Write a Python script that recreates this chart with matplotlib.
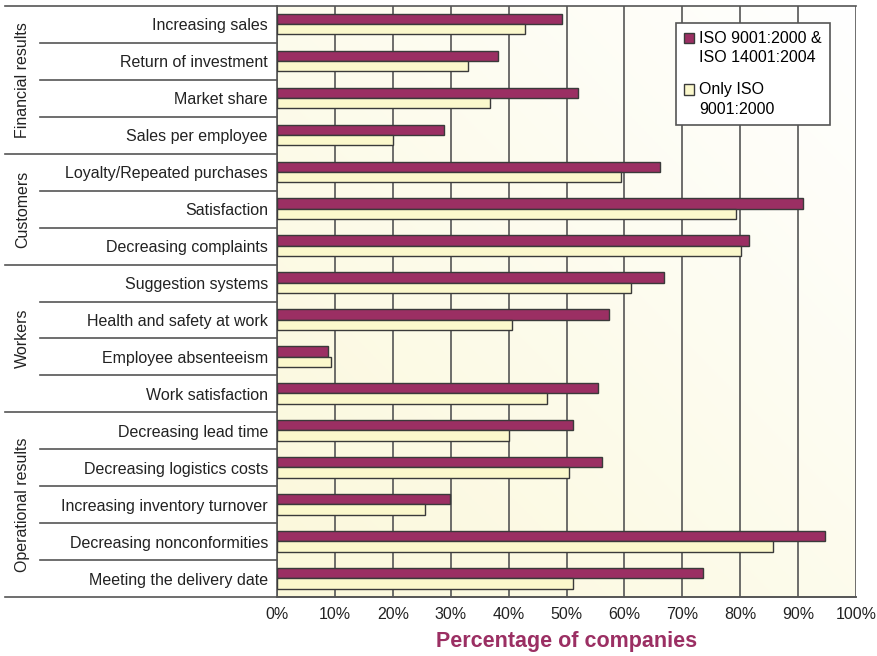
"""Grouped horizontal bars: share of companies reporting improvements,
ISO 9001 + ISO 14001 certified vs. only ISO 9001 certified."""
import matplotlib.pyplot as plt
import matplotlib.transforms as mtransforms
import numpy as np
from matplotlib.colors import LinearSegmentedColormap
from matplotlib.container import BarContainer
from matplotlib.legend_handler import HandlerPatch
from matplotlib.patches import Rectangle

plt.rcParams["font.family"] = ["Liberation Sans", "DejaVu Sans"]

categories = [
    "Increasing sales", "Return of investment", "Market share", "Sales per employee",
    "Loyalty/Repeated purchases", "Satisfaction", "Decreasing complaints",
    "Suggestion systems", "Health and safety at work", "Employee absenteeism", "Work satisfaction",
    "Decreasing lead time", "Decreasing logistics costs", "Increasing inventory turnover",
    "Decreasing nonconformities", "Meeting the delivery date",
]
both_iso = [49.3, 38.1, 51.9, 28.8, 66.2, 90.8, 81.6, 66.9, 57.3, 8.8, 55.5,
            51.1, 56.1, 29.9, 94.7, 73.5]
only_9001 = [42.9, 33.0, 36.8, 20.1, 59.4, 79.2, 80.2, 61.2, 40.6, 9.4, 46.7,
             40.1, 50.4, 25.6, 85.7, 51.1]
groups = ["Financial results", "Customers", "Workers", "Operational results"]
group_sizes = [4, 3, 4, 5]
series_labels = ["ISO 9001:2000 &\nISO 14001:2004", "Only ISO\n9001:2000"]
xticks = list(range(0, 101, 10))

PURPLE = "#9b2f63"
YELLOW = "#fbf8cc"
EDGE = "#3a3a3a"
LINE = "#555555"


def top_line_square(legend, orig_handle, xdescent, ydescent, width, height, fontsize):
    # put the legend swatch next to the first line of a two-line label
    return Rectangle((-xdescent, -ydescent + 0.65 * fontsize), width, height)


def from_first_bar(legend_handle, orig_handle):
    legend_handle.update_from(orig_handle.patches[0])


fig = plt.figure(figsize=(8.77, 6.56), dpi=100)
ax = fig.add_axes([277 / 877, 1 - 597 / 656, 579 / 877, 591 / 656])

# soft diagonal background: yellowish lower-left to white upper-right
n = 200
ii, jj = np.mgrid[0:n, 0:n] / (n - 1)
shade = (ii + (1 - jj)) / 2
cmap = LinearSegmentedColormap.from_list("bg", ["#ffffff", "#fbf8da"])
ax.imshow(shade, cmap=cmap, extent=[0, 1, 0, 1], transform=ax.transAxes,
          aspect="auto", zorder=0, interpolation="bilinear")

y = np.arange(len(categories))
h = 0.28
ax.barh(y - 0.15, both_iso, height=h, color=PURPLE, edgecolor=EDGE, linewidth=1.0,
        label=series_labels[0], zorder=3)
ax.barh(y + 0.13, only_9001, height=h, color=YELLOW, edgecolor=EDGE, linewidth=1.0,
        label=series_labels[1], zorder=3)

ax.set_xlim(0, 100)
ax.set_ylim(len(categories) - 0.5, -0.5)
ax.set_xticks(xticks)
ax.set_xticklabels([f"{t}%" for t in xticks], fontsize=11.5, color="#222222")
ax.set_yticks(y)
ax.set_yticklabels(categories, fontsize=11.5, color="#222222")
ax.tick_params(axis="y", length=0, pad=6.5)
ax.tick_params(axis="x", length=0, pad=7)
ax.xaxis.grid(True, color=LINE, linewidth=1.2, zorder=1)
ax.set_axisbelow(True)
for side in ["top", "right"]:
    ax.spines[side].set_visible(False)
for side in ["left", "bottom"]:
    ax.spines[side].set_color(LINE)
    ax.spines[side].set_linewidth(1.2)

ax.set_xlabel("Percentage of companies", fontsize=15.5, fontweight="bold",
              color=PURPLE, labelpad=7)

# row / group separators in the label column
trans = mtransforms.blended_transform_factory(ax.transAxes, ax.transData)
bounds = np.cumsum([0] + group_sizes) - 0.5
for k in range(len(categories) + 1):
    yy = k - 0.5
    if yy in bounds:
        x0 = -0.47
        x1 = 1.0 if yy in (bounds[0], bounds[-1]) else 0.0
    else:
        x0, x1 = -0.409, 0.0
    ax.plot([x0, x1], [yy, yy], transform=trans, color=LINE, linewidth=1.2,
            clip_on=False, zorder=4)

for name, lo, hi in zip(groups, bounds[:-1], bounds[1:]):
    ax.text(-0.439, (lo + hi) / 2, name, transform=trans, rotation=90,
            ha="center", va="center", fontsize=11.5, color="#222222")

leg = ax.legend(loc="upper left", bbox_to_anchor=(0.689, 0.972), fontsize=11.5,
                frameon=True, fancybox=False, framealpha=1, edgecolor=LINE,
                handlelength=0.6, handleheight=0.6, handletextpad=0.35,
                labelspacing=1.05, borderpad=0.5, borderaxespad=0,
                handler_map={BarContainer: HandlerPatch(patch_func=top_line_square,
                                                        update_func=from_first_bar)})
leg.get_frame().set_linewidth(1.2)
for t in leg.get_texts():
    t.set_linespacing(1.4)

fig.savefig("out.png", dpi=100)
